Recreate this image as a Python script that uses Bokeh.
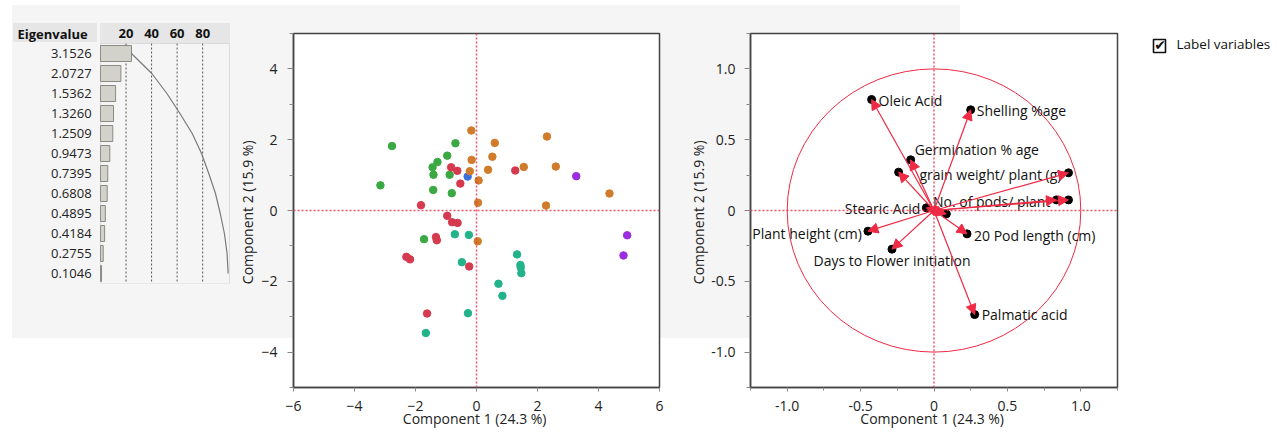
import numpy as np
from bokeh.plotting import figure
from bokeh.models import (Range1d, FixedTicker, Span, BoxAnnotation,
                          Arrow, NormalHead, ColumnDataSource, Spacer)
from bokeh.layouts import row, column
from bokeh.embed import file_html
from bokeh.resources import INLINE
from bokeh.core.properties import value

FONT = "Open Sans"
GRAY_BG = "#f5f5f5"
HEAD_BG = "#e6e6e6"
RED = "#ee2a45"
H = 433

# ---------------- data ----------------
eigenvalues = [3.1526, 2.0727, 1.5362, 1.3260, 1.2509, 0.9473, 0.7395, 0.6808,
               0.4895, 0.4184, 0.2755, 0.1046]
n_vars = 13
pct_ticks = [20, 40, 60, 80]

green_pc1 = [-2.77, -3.15, -0.69, -0.96, -1.28, -1.44, -1.41, -0.88, -1.42, -0.81, -1.72]
green_pc2 = [1.82, 0.71, 1.90, 1.55, 1.37, 1.22, 1.01, 1.01, 0.58, 0.49, -0.81]
teal_pc1 = [-0.71, -0.25, -0.48, 1.33, 1.44, 1.45, 1.47, 0.72, 0.85, -0.28, -1.66]
teal_pc2 = [-0.67, -0.69, -1.46, -1.24, -1.54, -1.61, -1.77, -2.07, -2.41, -2.90, -3.46]
red_pc1 = [-0.83, -0.63, -0.53, 1.27, -1.82, -0.96, -0.80, -0.62, -1.33, -1.30, -2.30, -2.18, -0.24, -1.62]
red_pc2 = [1.22, 1.12, 0.76, 1.13, 0.15, -0.15, -0.33, -0.35, -0.75, -0.84, -1.31, -1.38, -1.58, -2.91]
blue_pc1 = [-0.29]
blue_pc2 = [0.96]
orange_pc1 = [-0.17, 0.60, 0.52, -0.16, -0.22, 0.38, 0.07, 0.05, 0.04, 2.31, 2.60, 1.55, 2.28, 4.36]
orange_pc2 = [2.26, 1.91, 1.52, 1.43, 1.11, 1.15, 0.85, 0.22, -0.87, 2.09, 1.24, 1.23, 0.14, 0.48]
purple_pc1 = [3.27, 4.94, 4.82]
purple_pc2 = [0.97, -0.70, -1.27]

load_names = ["Oleic Acid", "Shelling %age", "Germination % age", "", "grain weight/ plant (g)",
              "No. of pods/ plant", "", "Stearic Acid", "", "Plant height (cm)",
              "20 Pod length (cm)", "Days to Flower initiation", "Palmatic acid"]
load_pc1 = [-0.425, 0.250, -0.159, -0.241, 0.916, 0.834, 0.916, -0.052, 0.084, -0.450, 0.225, -0.286, 0.277]
load_pc2 = [0.784, 0.711, 0.358, 0.271, 0.266, 0.075, 0.075, 0.019, -0.024, -0.146, -0.165, -0.273, -0.735]

# label placement (styles, screen px)
lab_dx = [7, 6, 4, 0, -7, -6, 0, -6, 0, -6, 7, 0, 7]
lab_dy = [1, 1, -10, 0, 2, 2, 0, 1, 0, 2, 2, 11, 0]
lab_align = ["left", "left", "left", "left", "right", "right", "left", "right", "left",
             "right", "left", "center", "left"]


def solid(c):
    return f"linear-gradient({c},{c})"


def style_axes(p):
    for ax in p.axis:
        ax.major_label_text_font = FONT
        ax.major_label_text_font_size = "14px"
        ax.major_label_text_color = "#222222"
        ax.axis_label_text_font = FONT
        ax.axis_label_text_font_size = "14px"
        ax.axis_label_text_font_style = "normal"
        ax.axis_label_text_color = "#222222"
        ax.axis_line_color = "#444444"
        ax.axis_line_width = 1.5
        ax.major_tick_line_color = "#888888"
        ax.minor_tick_line_color = "#888888"
        ax.major_tick_in = 0
        ax.minor_tick_in = 0
    for ax in p.xaxis:
        ax.major_tick_out = 4
        ax.minor_tick_out = 3
        ax.major_label_standoff = 9
        ax.axis_label_standoff = -5
    for ax in p.yaxis:
        ax.major_tick_out = 6
        ax.minor_tick_out = 4


def zero_lines(p):
    for dim in ("height", "width"):
        p.add_layout(Span(location=0, dimension=dim, line_color=RED, line_alpha=0.8,
                          line_dash="2 2", line_width=1.5))


# ---------------- eigenvalue panel ----------------
rows = [-i for i in range(len(eigenvalues))]
labels = [f"{v:.4f}" for v in eigenvalues]
pct = [v / n_vars * 100 for v in eigenvalues]
cum = list(np.cumsum(pct))

pa = figure(width=225, height=H, x_range=Range1d(-68.15, 102.6), y_range=Range1d(-11.5, 1.45),
            x_axis_location=None, y_axis_location=None,
            output_backend="svg", toolbar_location=None,
            min_border_left=5, min_border_right=2, min_border_top=24, min_border_bottom=H - 283)
pa.border_fill_alpha = 0
pa.background_fill_alpha = 0
pa.outline_line_color = None
pa.grid.visible = False
pa.styles = {"background": (f"{solid(HEAD_BG)} 5px 23px / 84px 19px no-repeat, "
                            f"{solid(HEAD_BG)} 92px 23px / 130px 20px no-repeat, "
                            f"{solid(GRAY_BG)} 4px 5px / 221px 333px no-repeat, #ffffff")}

pa.segment(x0=pct_ticks, y0=0.5, x1=pct_ticks, y1=-11.5, line_color="#555555",
           line_dash="2 2", line_width=1)
pa.hbar(y=rows, left=0, right=pct, height=0.8, fill_color="#d2d2ca",
        line_color="#8a8a82", line_width=1)
pa.line(x=cum, y=rows, line_color="#7a7a7a", line_width=1.2)
pa.add_layout(BoxAnnotation(left=0, right=101.0, top=0.5, bottom=-11.5, fill_alpha=0,
                            line_color="#a0a0a0", line_width=1))
pa.text(x=-7, y=rows, text=labels, text_align="right", text_baseline="middle",
        text_font=value(FONT), text_font_size="13px", text_color="#222222")
pa.text(x=pct_ticks, y=1.0, text=[str(t) for t in pct_ticks], text_align="center",
        text_baseline="middle", text_font=value(FONT), text_font_size="13px",
        text_font_style="bold", text_color="#111111")
pa.text(x=-65, y=1.0, text=["Eigenvalue"], text_align="left", text_baseline="middle",
        text_font=value(FONT), text_font_size="13px", text_font_style="bold",
        text_color="#111111")

# ---------------- score plot ----------------
pb = figure(width=447, height=H, x_range=Range1d(-6, 6), y_range=Range1d(-5, 5),
            output_backend="svg", toolbar_location=None,
            min_border_left=60, min_border_right=21, min_border_top=33, min_border_bottom=H - 387)
pb.border_fill_alpha = 0
pb.background_fill_color = "white"
pb.styles = {"background": f"{solid(GRAY_BG)} 0px 5px / 447px 333px no-repeat, #ffffff"}
pb.grid.visible = False
pb.outline_line_color = "#444444"
pb.outline_line_width = 1.5
pb.xaxis.ticker = FixedTicker(ticks=[-6, -4, -2, 0, 2, 4, 6])
pb.yaxis.ticker = FixedTicker(ticks=[-4, -2, 0, 2, 4], minor_ticks=[-5, -3, -1, 1, 3, 5])
pb.xaxis.axis_label = "Component 1  (24.3 %)"
pb.yaxis.axis_label = "Component 2  (15.9 %)"
style_axes(pb)
pb.yaxis.major_label_standoff = 10
pb.yaxis.axis_label_standoff = 1
zero_lines(pb)

groups = [
    (green_pc1, green_pc2, "#3aa843"),
    (teal_pc1, teal_pc2, "#22b38a"),
    (red_pc1, red_pc2, "#d63a4f"),
    (blue_pc1, blue_pc2, "#3b6fe0"),
    (orange_pc1, orange_pc2, "#d07c2a"),
    (purple_pc1, purple_pc2, "#9b2fe0"),
]
for gx, gy, col in groups:
    pb.scatter(gx, gy, size=7.5, fill_color=col, line_color=col)

# ---------------- loading plot ----------------
pc = figure(width=450, height=H, x_range=Range1d(-1.25, 1.25), y_range=Range1d(-1.25, 1.25),
            output_backend="svg", toolbar_location=None,
            min_border_left=70, min_border_right=13, min_border_top=33, min_border_bottom=H - 387)
pc.border_fill_alpha = 0
pc.background_fill_color = "white"
pc.styles = {"background": f"{solid(GRAY_BG)} 0px 5px / 280px 333px no-repeat, #ffffff"}
pc.grid.visible = False
pc.outline_line_color = "#444444"
pc.outline_line_width = 1.5
ticks = [-1.0, -0.5, 0, 0.5, 1.0]
minors = [-1.25, -0.75, -0.25, 0.25, 0.75, 1.25]
pc.xaxis.ticker = FixedTicker(ticks=ticks, minor_ticks=minors)
pc.yaxis.ticker = FixedTicker(ticks=ticks, minor_ticks=minors)
for ax in pc.axis:
    ax.major_label_overrides = {0: "0", -1.0: "-1.0", 1.0: "1.0", 0.5: "0.5", -0.5: "-0.5"}
pc.xaxis.axis_label = "Component 1  (24.3 %)"
pc.yaxis.axis_label = "Component 2  (15.9 %)"
style_axes(pc)
pc.yaxis.major_label_standoff = 9
pc.yaxis.axis_label_standoff = 0
zero_lines(pc)
pc.ellipse(x=0, y=0, width=2, height=2, fill_color=None, line_color=RED, line_width=1)

lsrc = ColumnDataSource(dict(x=load_pc1, y=load_pc2, name=load_names, dx=lab_dx, dy=lab_dy,
                             align=lab_align))
pc.scatter("x", "y", source=lsrc, size=8, fill_color="black", line_color="black")
pc.add_layout(Arrow(end=NormalHead(size=10, fill_color=RED, line_color=RED),
                    x_start=0, y_start=0, x_end="x", y_end="y", source=lsrc,
                    line_color=RED, line_width=1.2))
pc.text(x="x", y="y", text="name", x_offset="dx", y_offset="dy", text_align="align",
        text_baseline="middle", text_font_size="14px", text_color="#111111",
        text_font=value(FONT), source=lsrc)

# ---------------- "Label variables" checkbox ----------------
pd_ = figure(width=140, height=H, x_range=Range1d(0, 140), y_range=Range1d(H, 0),
             x_axis_location=None, y_axis_location=None, min_border=0,
             output_backend="svg", toolbar_location=None)
pd_.outline_line_color = None
pd_.grid.visible = False
pd_.quad(left=[23], right=[35], top=[39], bottom=[52], fill_color="white",
         line_color="#111111", line_width=1.6)
pd_.text(x=[29.5], y=[44.5], text=["\u2714"], text_align="center", text_baseline="middle",
         text_font=value("DejaVu Sans"), text_font_size="14px", text_color="#111111")
pd_.text(x=[46], y=[43.5], text=["Label variables"], text_align="left",
         text_baseline="middle", text_font=value(FONT), text_font_size="13.5px",
         text_color="#111111")

layout = row(Spacer(width=8, height=H), column(pa), column(pb), column(pc), column(pd_))
open("out.html", "w").write(file_html(layout, INLINE))
